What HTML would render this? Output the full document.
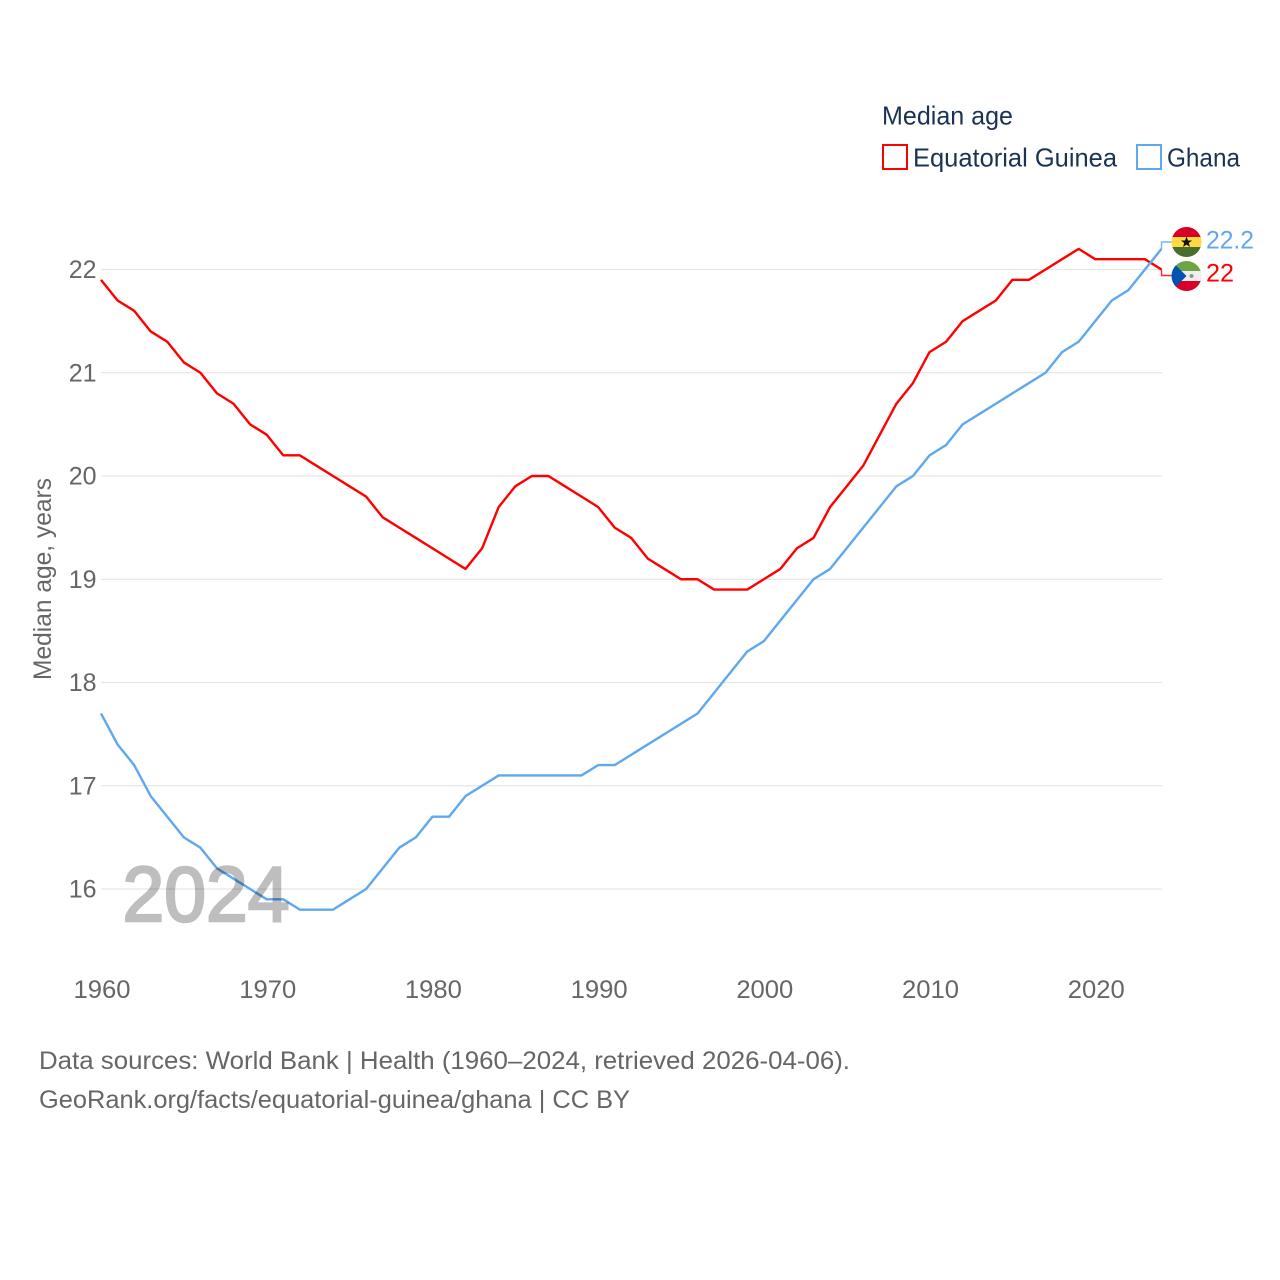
<!DOCTYPE html>
<html lang="en">
<head>
<meta charset="utf-8">
<title>Median age: Equatorial Guinea and Ghana</title>
<style>
html,body{margin:0;padding:0;background:#fff;width:1280px;height:1280px;overflow:hidden}
svg{display:block}
text{font-family:"Liberation Sans",sans-serif}
</style>
</head>
<body>
<svg id="chart" xmlns="http://www.w3.org/2000/svg" width="1280" height="1280" viewBox="0 0 1280 1280">
  <defs>
    <clipPath id="clip-ghana"><circle cx="1186.5" cy="242" r="15"/></clipPath>
    <clipPath id="clip-eg"><circle cx="1186.5" cy="276" r="15"/></clipPath>
  </defs>
  <rect x="0" y="0" width="1280" height="1280" fill="#fff"/>
  <g id="grid"></g>
  <g id="yticks"></g>
  <g id="xticks"></g>
  <g id="series"></g>
  <text x="122.5" y="921" font-size="78" font-weight="normal" fill="#000" stroke="#000" stroke-width="2.5" opacity="0.25" textLength="167" lengthAdjust="spacingAndGlyphs">2024</text>
  <text transform="translate(51,680) rotate(-90)" font-size="25" fill="#666" textLength="202" lengthAdjust="spacingAndGlyphs">Median age, years</text>

  <g>
    <text x="882" y="124.5" font-size="26" fill="#1a3354" textLength="131" lengthAdjust="spacingAndGlyphs">Median age</text>
    <rect x="883" y="145" width="24" height="24" fill="none" stroke="#ff0000" stroke-width="2"/>
    <text x="913" y="166.5" font-size="26" fill="#1a3354" textLength="204" lengthAdjust="spacingAndGlyphs">Equatorial Guinea</text>
    <rect x="1137" y="145" width="24" height="24" fill="none" stroke="#5fa8ee" stroke-width="2"/>
    <text x="1167" y="166.5" font-size="26" fill="#1a3354" textLength="73" lengthAdjust="spacingAndGlyphs">Ghana</text>
  </g>

  <text x="1206" y="248.5" font-size="25" fill="#5fa8ee" textLength="48" lengthAdjust="spacingAndGlyphs">22.2</text>
  <text x="1206" y="281.5" font-size="25" fill="#ff0000" textLength="28" lengthAdjust="spacingAndGlyphs">22</text>

  <text x="39" y="1069" font-size="25" fill="#666" textLength="811" lengthAdjust="spacingAndGlyphs">Data sources: World Bank | Health (1960–2024, retrieved 2026-04-06).</text>
  <text x="39" y="1108" font-size="25" fill="#666" textLength="591" lengthAdjust="spacingAndGlyphs">GeoRank.org/facts/equatorial-guinea/ghana | CC BY</text>
</svg>
<script>
const years = [1960,1961,1962,1963,1964,1965,1966,1967,1968,1969,1970,1971,1972,1973,1974,1975,1976,1977,1978,1979,1980,1981,1982,1983,1984,1985,1986,1987,1988,1989,1990,1991,1992,1993,1994,1995,1996,1997,1998,1999,2000,2001,2002,2003,2004,2005,2006,2007,2008,2009,2010,2011,2012,2013,2014,2015,2016,2017,2018,2019,2020,2021,2022,2023,2024];
const equatorialGuinea = [21.9,21.7,21.6,21.4,21.3,21.1,21.0,20.8,20.7,20.5,20.4,20.2,20.2,20.1,20.0,19.9,19.8,19.6,19.5,19.4,19.3,19.2,19.1,19.3,19.7,19.9,20.0,20.0,19.9,19.8,19.7,19.5,19.4,19.2,19.1,19.0,19.0,18.9,18.9,18.9,19.0,19.1,19.3,19.4,19.7,19.9,20.1,20.4,20.7,20.9,21.2,21.3,21.5,21.6,21.7,21.9,21.9,22.0,22.1,22.2,22.1,22.1,22.1,22.1,22.0];
const ghana = [17.7,17.4,17.2,16.9,16.7,16.5,16.4,16.2,16.1,16.0,15.9,15.9,15.8,15.8,15.8,15.9,16.0,16.2,16.4,16.5,16.7,16.7,16.9,17.0,17.1,17.1,17.1,17.1,17.1,17.1,17.2,17.2,17.3,17.4,17.5,17.6,17.7,17.9,18.1,18.3,18.4,18.6,18.8,19.0,19.1,19.3,19.5,19.7,19.9,20.0,20.2,20.3,20.5,20.6,20.7,20.8,20.9,21.0,21.2,21.3,21.5,21.7,21.8,22.0,22.2];
const yTickValues = [16,17,18,19,20,21,22];
const xTickValues = [1960,1970,1980,1990,2000,2010,2020];

const NS = 'http://www.w3.org/2000/svg';
const xScale = function (year) { return 101 + (year - 1960) * (1161.5 - 101) / 64; };
const yScale = function (v) { return 889 - (v - 16) * (889 - 269.5) / 6; };

const grid = document.getElementById('grid');
const yticks = document.getElementById('yticks');
const xticks = document.getElementById('xticks');
const seriesGroup = document.getElementById('series');

yTickValues.forEach(function (v) {
  const line = document.createElementNS(NS, 'line');
  
  
  line.setAttribute('x1', 101);
  line.setAttribute('x2', 1162);
  line.setAttribute('y1', yScale(v));
  line.setAttribute('y2', yScale(v));
  line.setAttribute('stroke', '#e6e6e6');
  line.setAttribute('stroke-width', 1.2);
  grid.appendChild(line);

  const label = document.createElementNS(NS, 'text');
  
  
  label.setAttribute('x', 96.5);
  label.setAttribute('y', yScale(v) + 8.5);
  label.setAttribute('text-anchor', 'end');
  label.setAttribute('font-size', 25);
  label.setAttribute('fill', '#666');
  label.textContent = String(v);
  yticks.appendChild(label);
});

xTickValues.forEach(function (yr) {
  const label = document.createElementNS(NS, 'text');
  
  
  label.setAttribute('x', xScale(yr) - 27.5);
  label.setAttribute('y', 998);
  label.setAttribute('font-size', 25);
  label.setAttribute('fill', '#666');
  label.setAttribute('textLength', 57);
  label.setAttribute('lengthAdjust', 'spacingAndGlyphs');
  label.textContent = String(yr);
  xticks.appendChild(label);
});

function drawSeries(values, color, name, flagY) {
  const pts = values.map(function (v, i) { return xScale(years[i]) + ',' + yScale(v); }).join(' ');
  const line = document.createElementNS(NS, 'polyline');
  
  
  line.setAttribute('points', pts);
  line.setAttribute('fill', 'none');
  line.setAttribute('stroke', color);
  line.setAttribute('stroke-width', 2.4);
  line.setAttribute('stroke-linejoin', 'round');
  seriesGroup.appendChild(line);

  const endX = xScale(years[years.length - 1]);
  const endY = yScale(values[values.length - 1]);
  const connector = document.createElementNS(NS, 'polyline');
  
  
  connector.setAttribute('points', endX + ',' + endY + ' ' + endX + ',' + flagY + ' 1172,' + flagY);
  connector.setAttribute('fill', 'none');
  connector.setAttribute('stroke', color);
  connector.setAttribute('stroke-width', 1.4);
  connector.setAttribute('stroke-opacity', 0.85);
  seriesGroup.appendChild(connector);
}

drawSeries(equatorialGuinea, '#ff0000', 'equatorial-guinea', 275.5);
drawSeries(ghana, '#5fa8ee', 'ghana', 242);
</script>
<svg xmlns="http://www.w3.org/2000/svg" width="1280" height="1280" viewBox="0 0 1280 1280" style="position:absolute;left:0;top:0;pointer-events:none">
  <g clip-path="url(#clip-ghana)">
    <rect x="1171" y="227" width="31" height="10" fill="#d80027"/>
    <rect x="1171" y="237" width="31" height="10" fill="#ffda44"/>
    <rect x="1171" y="247" width="31" height="10" fill="#496e2d"/>
    <polygon points="1186.5,236.5 1188,240.5 1192,240.5 1188.8,243 1190,247 1186.5,244.6 1183,247 1184.2,243 1181,240.5 1185,240.5" fill="#111"/>
  </g>
  <g clip-path="url(#clip-eg)">
    <rect x="1171" y="261" width="31" height="10" fill="#6da544"/>
    <rect x="1171" y="271" width="31" height="10" fill="#eeeeee"/>
    <rect x="1171" y="281" width="31" height="10" fill="#d80027"/>
    <polygon points="1171.5,261 1186.5,276 1171.5,291" fill="#0052b4"/>
    <circle cx="1191.5" cy="276" r="2" fill="#8a9a8a"/>
  </g>
</svg>
</body>
</html>
